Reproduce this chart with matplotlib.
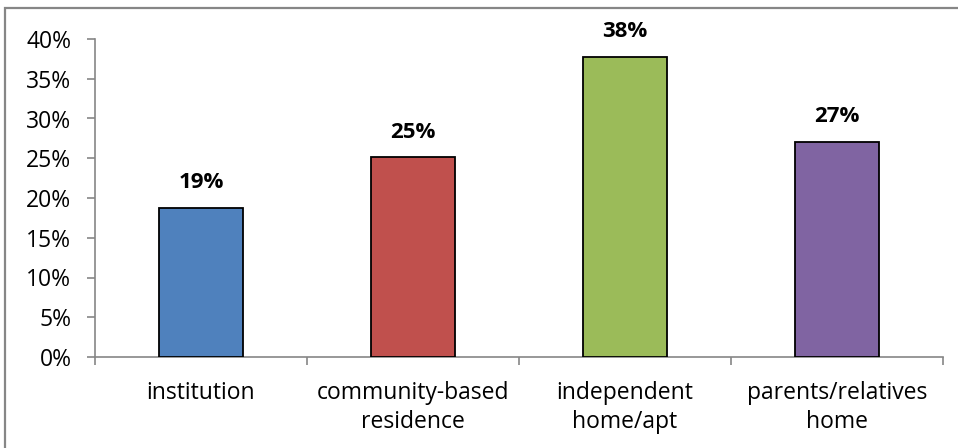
import matplotlib
matplotlib.use("Agg")
from matplotlib import pyplot as plt
from matplotlib.ticker import FixedLocator
from matplotlib.patches import Rectangle
import numpy as np

categories = ["institution", "community-based\nresidence", "independent\nhome/apt", "parents/relatives\nhome"]
values = [18.8, 25.1, 37.7, 27.1]
labels = ["19%", "25%", "38%", "27%"]
colors = ["#4F81BD", "#C0504D", "#9BBB59", "#8064A2"]

plt.rcParams['font.family'] = ['Open Sans', 'DejaVu Sans']

W, H = 958, 448
fig = plt.figure(figsize=(W / 100, H / 100), dpi=100)
ax = fig.add_axes([95 / W, 91 / H, 848 / W, 318 / H])

# chart area border (only top/left visible in the original crop)
fig.add_artist(Rectangle((5 / W, -0.2), 1.2, 1.2 - 8 / H, transform=fig.transFigure,
                         fill=False, edgecolor='#868686', linewidth=1.6))

x = np.arange(len(categories))
ax.bar(x, values, width=0.4, color=colors, edgecolor='black', linewidth=1.3, zorder=3)
for xi, v, lab in zip(x, values, labels):
    ax.text(xi, v + 2.5, lab, ha='center', va='baseline', fontsize=16, fontweight='bold')

ax.set_xlim(-0.5, 3.5)
ax.set_ylim(0, 40)
ax.set_yticks(range(0, 41, 5))
ax.set_yticklabels([f"{t}%" for t in range(0, 41, 5)], fontsize=16.5)
ax.xaxis.set_major_locator(FixedLocator([-0.5, 0.5, 1.5, 2.5, 3.5]))
ax.set_xticklabels([])
ax.xaxis.set_minor_locator(FixedLocator(x))
ax.set_xticklabels(categories, minor=True, fontsize=16.5, linespacing=1.3)
ax.tick_params(axis='x', which='minor', length=0, pad=17)
ax.tick_params(axis='x', which='major', length=6, width=1.2, color='#868686', direction='out')
ax.tick_params(axis='y', length=6, width=1.2, color='#868686', direction='out', pad=11)

for s in ['top', 'right']:
    ax.spines[s].set_visible(False)
for s in ['left', 'bottom']:
    ax.spines[s].set_color('#868686')
    ax.spines[s].set_linewidth(1.2)

fig.savefig("out.png", dpi=100)
